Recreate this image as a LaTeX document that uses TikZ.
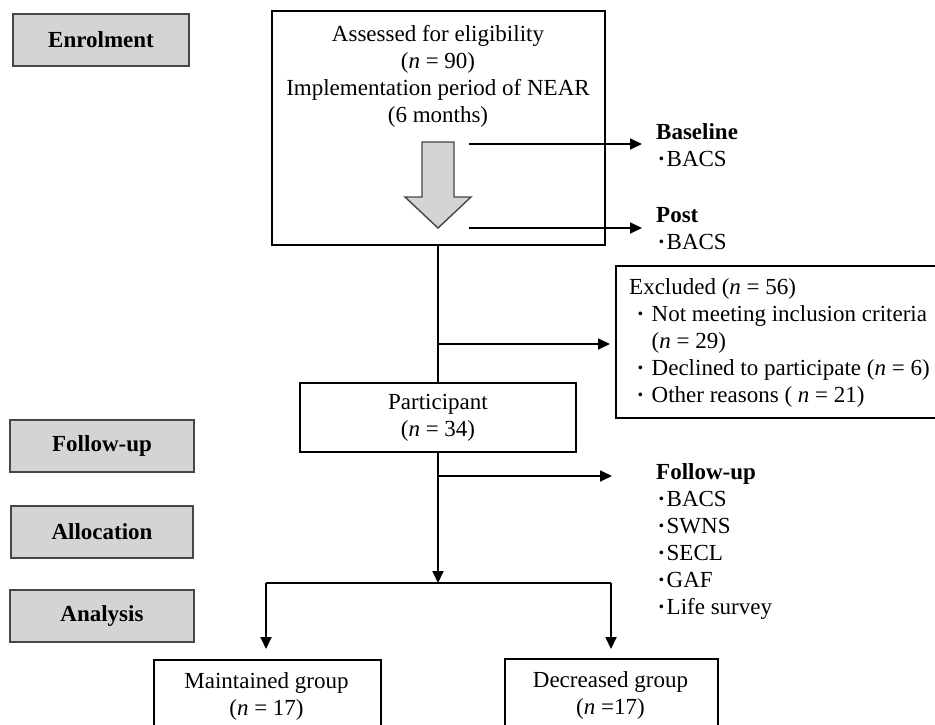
\documentclass[tikz,border=0pt]{standalone}
\usepackage{fontspec}
\setmainfont{Liberation Serif}
\usetikzlibrary{arrows.meta,calc}
\definecolor{stagefill}{RGB}{212,212,212}
\definecolor{stageedge}{RGB}{70,70,70}
\newcommand{\jdot}{\makebox[22.5pt]{\textbf{\textperiodcentered}}}
\newcommand{\hdot}{\makebox[10.5pt]{\textbf{\textperiodcentered}}}
\newcommand{\nn}{\textit{n}}
\begin{document}
\begin{tikzpicture}[x=1pt,y=-1pt,
  every node/.style={font=\fontsize{23}{27}\selectfont, inner sep=0pt},
  stage/.style={draw=stageedge, line width=1.6pt, fill=stagefill, minimum height=52pt, font=\fontsize{23}{27}\selectfont\bfseries},
  box/.style={draw, line width=1.8pt, fill=white},
  txt/.style={align=left, anchor=north west},
  ctxt/.style={align=center, anchor=north},
  conn/.style={line width=1.8pt},
  arr/.style={line width=1.8pt, -{Triangle[length=12pt,width=11pt]}}
]
\clip (0,0) rectangle (935,724);
\fill[white] (0,0) rectangle (935,724);

% stage labels
\node[stage, minimum width=176pt] (enrol) at (101,40) {Enrolment};
\node[stage, minimum width=184pt] (follow) at (102,446) {Follow-up};
\node[stage, minimum width=182pt] (alloc) at (102,532) {Allocation};
\node[stage, minimum width=184pt] (analysis) at (102,616) {Analysis};

% main box
\node[box, minimum width=333pt, minimum height=234pt] (main) at (438.5,128) {};
\node[ctxt] (maintext) at (438,25) {Assessed for eligibility\\(\nn{} = 90)\\Implementation period of NEAR\\(6 months)};

% block arrow
\filldraw[fill=stagefill, draw=stageedge, line width=1.4pt]
  (422,142) -- (454,142) -- (454,197) -- (471,197) -- (438,228) -- (405,197) -- (422,197) -- cycle;

% baseline / post
\coordinate (bs) at (469,144);
\coordinate (be) at (642,144);
\coordinate (ps) at (469,228);
\coordinate (pe) at (642,228);
\draw[arr] (bs) -- (be);
\draw[arr] (ps) -- (pe);
\node[txt] (basetext) at (656,123.3) {\textbf{Baseline}\\\hdot BACS};
\node[txt] (posttext) at (656,207) {\textbf{Post}\\\hdot BACS};

% excluded
\node[box, minimum width=325pt, minimum height=152pt, anchor=north west] (excl) at (615,265) {};
\node[txt] (excltext) at (629,278) {\fontsize{23}{27.1}\selectfont Excluded (\nn{} = 56)\\\jdot Not meeting inclusion criteria\\\hspace{22.5pt}(\nn{} = 29)\\\jdot Declined to participate (\nn{} = 6)\\\jdot Other reasons ( \nn{} = 21)};

% participant
\node[box, minimum width=276pt, minimum height=69pt, anchor=north] (part) at (438,382) {};
\node[ctxt] (parttext) at (438,394.5) {\fontsize{23}{26}\selectfont Participant\\(\nn{} = 34)};

\draw[conn] (part.north |- main.south) -- (part.north);
\coordinate (exs) at (438,344);
\draw[arr, shorten >=5pt] (exs) -- (excl.west |- exs);

% follow-up measures
\coordinate (fus) at (438,476);
\coordinate (fue) at (612,476);
\draw[arr] (fus) -- (fue);
\node[txt] (futext) at (656,463.5) {\fontsize{23}{27.5}\selectfont\textbf{Follow-up}\\\hdot BACS\\\hdot SWNS\\\hdot SECL\\\hdot GAF\\\hdot Life survey};

% branch
\coordinate (br) at (438,583);
\coordinate (brl) at (266,583);
\coordinate (brr) at (611,583);
\draw[arr] (part.south) -- (br);
\draw[conn] (brl) -- (brr);

% groups
\node[box, minimum width=227pt, minimum height=90pt, anchor=north west] (maint) at (153,659) {};
\node[box, minimum width=213pt, minimum height=90pt, anchor=north west] (decr) at (504,658) {};
\node[ctxt] (mainttext) at (266.5,672.6) {Maintained group\\(\nn{} = 17)};
\node[ctxt] (decrtext) at (610.5,671) {Decreased group\\(\nn{} =17)};

\draw[arr, shorten >=10pt] (brl) -- (brl |- maint.north);
\draw[arr, shorten >=9pt] (brr) -- (brr |- decr.north);
\end{tikzpicture}
\end{document}
